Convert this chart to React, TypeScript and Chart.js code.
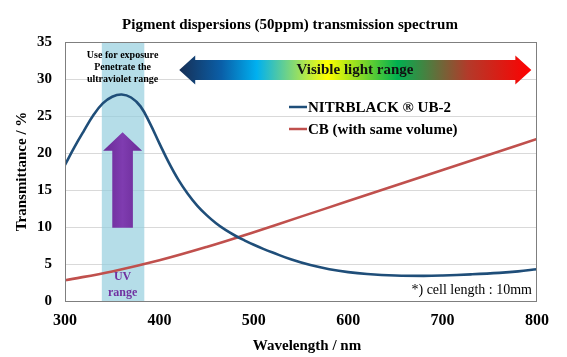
import React, { useEffect, useRef } from "react";
import { Chart, registerables } from "chart.js";

Chart.register(...registerables);

const TITLE = "Pigment dispersions (50ppm) transmission spectrum";
const X_TITLE = "Wavelength / nm";
const Y_TITLE = "Transmittance / %";
const SERIES_NAMES = ["NITRBLACK ® UB-2", "CB (with same volume)"];
const SERIES_COLORS = ["#1f4e79", "#c0504d"];

const UB2_WAVELENGTHS = [300, 310, 320, 330, 340, 350, 360, 370, 380, 390, 400, 410, 420, 430, 440, 450, 460, 470, 480, 490, 500, 510, 520, 540, 560, 580, 600, 620, 650, 680, 700, 730, 760, 780, 800];
const UB2_VALUES = [18.4, 20.8, 23.0, 25.1, 26.7, 27.6, 27.9, 27.5, 26.3, 24.0, 21.3, 18.7, 16.4, 14.5, 12.9, 11.6, 10.5, 9.6, 8.85, 8.2, 7.6, 7.05, 6.55, 5.6, 4.85, 4.3, 3.9, 3.65, 3.45, 3.4, 3.45, 3.6, 3.8, 4.0, 4.3];

const CB_WAVELENGTHS = [300, 350, 400, 450, 500, 550, 600, 650, 700, 750, 800];
const CB_VALUES = [2.8, 4.0, 5.5, 7.3, 9.3, 11.4, 13.5, 15.6, 17.7, 19.8, 21.9];

const X_MIN = 300;
const X_MAX = 800;
const X_STEP = 100;
const Y_MIN = 0;
const Y_MAX = 35;
const Y_STEP = 5;

const UV_RANGE = [339, 384];
const UV_ARROW = { x: 361, tip: 22.8, headBase: 20.3, bottom: 9.9 };
const VISIBLE_RANGE = [421, 794];
const VISIBLE_ARROW_Y = 31.2;
const UV_NOTE = ["Use for exposure", "Penetrate the", "ultraviolet range"];
const UV_LABEL = ["UV", "range"];
const VISIBLE_LABEL = "Visible light range";
const CELL_NOTE = "*) cell length : 10mm";

const FONT = "'Liberation Serif', 'Times New Roman', serif";

const overlayPlugin = {
  id: "overlay",
  beforeDatasetsDraw(chart: any) {
    const { ctx, chartArea, scales } = chart;
    const { top, bottom } = chartArea;
    const x = scales.x;
    const y = scales.y;
    ctx.save();
    const bx1 = x.getPixelForValue(UV_RANGE[0]);
    const bx2 = x.getPixelForValue(UV_RANGE[1]);
    ctx.fillStyle = "rgba(146, 205, 221, 0.68)";
    ctx.fillRect(bx1, top, bx2 - bx1, bottom - top);

    const cx = x.getPixelForValue(UV_ARROW.x);
    const tipY = y.getPixelForValue(UV_ARROW.tip);
    const baseY = y.getPixelForValue(UV_ARROW.headBase);
    const botY = y.getPixelForValue(UV_ARROW.bottom);
    const sw = 10.3;
    const hw = 19.5;
    const g = ctx.createLinearGradient(cx - hw, 0, cx + hw, 0);
    g.addColorStop(0, "#6a2a96");
    g.addColorStop(0.5, "#7f3cb0");
    g.addColorStop(1, "#6a2a96");
    ctx.fillStyle = g;
    ctx.beginPath();
    ctx.moveTo(cx, tipY);
    ctx.lineTo(cx + hw, baseY);
    ctx.lineTo(cx + sw, baseY);
    ctx.lineTo(cx + sw, botY);
    ctx.lineTo(cx - sw, botY);
    ctx.lineTo(cx - sw, baseY);
    ctx.lineTo(cx - hw, baseY);
    ctx.closePath();
    ctx.fill();
    ctx.restore();
  },
  afterDraw(chart: any) {
    const { ctx, chartArea, scales } = chart;
    const { top, bottom, left, right } = chartArea;
    const x = scales.x;
    const y = scales.y;
    ctx.save();

    ctx.strokeStyle = "#7f7f7f";
    ctx.lineWidth = 1;
    ctx.strokeRect(left + 0.5, top + 0.5, right - left - 1, bottom - top);

    ctx.fillStyle = "#000";
    ctx.textAlign = "center";
    ctx.textBaseline = "middle";
    ctx.font = `bold 15px ${FONT}`;
    ctx.fillText(TITLE, 290, 25);

    ctx.font = `bold 15px ${FONT}`;
    ctx.fillText(X_TITLE, (left + right) / 2 + 6, 346);

    const cx = x.getPixelForValue(UV_ARROW.x);
    ctx.font = `bold 10px ${FONT}`;
    UV_NOTE.forEach((t, i) => ctx.fillText(t, cx, 55 + i * 12));

    ctx.fillStyle = "#7030a0";
    ctx.font = `bold 12px ${FONT}`;
    UV_LABEL.forEach((t, i) => ctx.fillText(t, cx, 277 + i * 16));

    const ax1 = x.getPixelForValue(VISIBLE_RANGE[0]);
    const ax2 = x.getPixelForValue(VISIBLE_RANGE[1]);
    const ay = y.getPixelForValue(VISIBLE_ARROW_Y);
    const bh = 10;
    const hh = 14.5;
    const hl = 16;
    const grad = ctx.createLinearGradient(ax1, 0, ax2, 0);
    grad.addColorStop(0, "#172f55");
    grad.addColorStop(0.12, "#0a5fa8");
    grad.addColorStop(0.22, "#00b0f0");
    grad.addColorStop(0.42, "#ffff00");
    grad.addColorStop(0.62, "#00b050");
    grad.addColorStop(0.82, "#b33a2a");
    grad.addColorStop(1, "#ff0000");
    ctx.fillStyle = grad;
    ctx.beginPath();
    ctx.moveTo(ax1, ay);
    ctx.lineTo(ax1 + hl, ay - hh);
    ctx.lineTo(ax1 + hl, ay - bh);
    ctx.lineTo(ax2 - hl, ay - bh);
    ctx.lineTo(ax2 - hl, ay - hh);
    ctx.lineTo(ax2, ay);
    ctx.lineTo(ax2 - hl, ay + hh);
    ctx.lineTo(ax2 - hl, ay + bh);
    ctx.lineTo(ax1 + hl, ay + bh);
    ctx.lineTo(ax1 + hl, ay + hh);
    ctx.closePath();
    ctx.fill();
    ctx.fillStyle = "#111";
    ctx.font = `bold 15px ${FONT}`;
    ctx.fillText(VISIBLE_LABEL, 355, ay);

    ctx.textAlign = "left";
    ctx.font = `bold 15px ${FONT}`;
    SERIES_NAMES.forEach((name, i) => {
      const ly = 107 + i * 22;
      ctx.strokeStyle = SERIES_COLORS[i];
      ctx.lineWidth = 2.5;
      ctx.beginPath();
      ctx.moveTo(289, ly);
      ctx.lineTo(307, ly);
      ctx.stroke();
      ctx.fillStyle = "#000";
      ctx.fillText(name, 308, ly + 1);
    });

    ctx.textAlign = "right";
    ctx.font = `14px ${FONT}`;
    ctx.fillStyle = "#000";
    ctx.fillText(CELL_NOTE, right - 5, 290);

    ctx.restore();
  },
};

export default function App() {
  const ref = useRef<HTMLCanvasElement | null>(null);

  useEffect(() => {
    document.body.style.margin = "0";
    const canvas = ref.current;
    if (!canvas) return;
    const ub2 = UB2_WAVELENGTHS.map((w, i) => ({ x: w, y: UB2_VALUES[i] }));
    const cb = CB_WAVELENGTHS.map((w, i) => ({ x: w, y: CB_VALUES[i] }));
    const chart = new Chart(canvas, {
      type: "line",
      data: {
        datasets: [
          {
            label: SERIES_NAMES[0],
            data: ub2,
            borderColor: SERIES_COLORS[0],
            borderWidth: 2.6,
            pointRadius: 0,
            tension: 0.4,
          },
          {
            label: SERIES_NAMES[1],
            data: cb,
            borderColor: SERIES_COLORS[1],
            borderWidth: 2.6,
            pointRadius: 0,
            tension: 0.4,
          },
        ],
      },
      options: {
        responsive: false,
        animation: false,
        layout: { padding: { top: 42, right: 30, left: 0, bottom: 0 } },
        plugins: {
          legend: { display: false },
          title: { display: false },
          tooltip: { enabled: false },
        },
        scales: {
          x: {
            type: "linear",
            min: X_MIN,
            max: X_MAX,
            ticks: {
              stepSize: X_STEP,
              color: "#000",
              padding: 10,
              font: { family: FONT, size: 16, weight: "bold" },
            },
            grid: { display: false, drawTicks: false },
            border: { display: false },
            afterFit: (s: any) => {
              s.height = 56;
            },
          },
          y: {
            min: Y_MIN,
            max: Y_MAX,
            ticks: {
              stepSize: Y_STEP,
              color: "#000",
              padding: 13,
              font: { family: FONT, size: 15, weight: "bold" },
            },
            grid: { color: "#d9d9d9", drawTicks: false, lineWidth: 1 },
            border: { display: false },
            title: {
              display: true,
              text: Y_TITLE,
              color: "#000",
              padding: { top: 13, bottom: 0 },
              font: { family: FONT, size: 15, weight: "bold" },
            },
            afterFit: (s: any) => {
              s.width = 65;
            },
          },
        },
      },
      plugins: [overlayPlugin],
    } as any);
    return () => chart.destroy();
  }, []);

  return <canvas ref={ref} width={567} height={357} style={{ display: "block" }} />;
}
